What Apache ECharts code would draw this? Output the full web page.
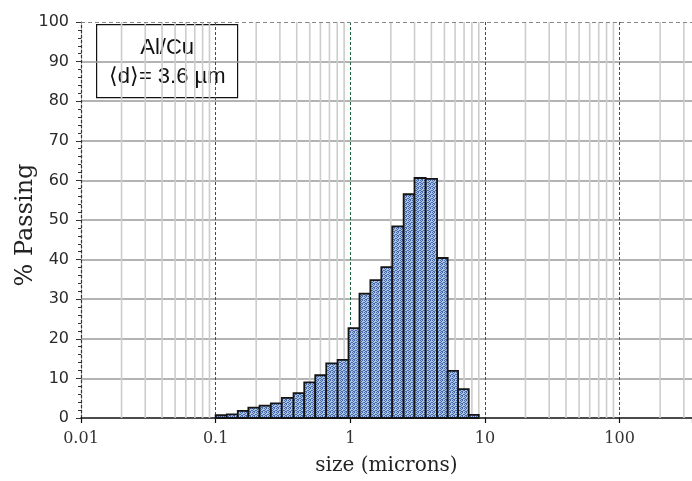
<!DOCTYPE html>
<html><head><meta charset="utf-8">
<script src="https://cdn.jsdelivr.net/npm/echarts@6/dist/echarts.min.js"></script>
<style>html,body{margin:0;padding:0;background:#fff}#c{width:692px;height:481px}</style>
</head><body><div id="c"></div>
<script>
// Bin edges (microns)
const binEdges = [0.1, 0.121, 0.146, 0.175, 0.212, 0.257, 0.31, 0.379, 0.455, 0.549, 0.663, 0.805,
  0.97, 1.17, 1.41, 1.7, 2.05, 2.49, 3.0, 3.63, 4.41, 5.29, 6.32, 7.58, 9.0];
// % Passing per bin
const passing = [0.7, 0.9, 1.8, 2.6, 3.1, 3.7, 5.1, 6.3, 9.0, 10.8, 13.8, 14.7,
  22.7, 31.4, 34.8, 38.1, 48.4, 56.5, 60.6, 60.4, 40.4, 11.9, 7.3, 0.8];
// Minor log grid positions
const minorTicks = [0.02,0.03,0.04,0.05,0.06,0.07,0.08,0.09,
  0.2,0.3,0.4,0.5,0.6,0.7,0.8,0.9,
  2,3,4,5,6,7,8,9,
  20,30,40,50,60,70,80,90,
  200,300];
const xTickLabels = ['0.01','0.1','1','10','100'];
const annotation = ['Al/Cu', '\u27E8d\u27E9= 3.6 \u00B5m'];

const barData = passing.map((v, i) => [binEdges[i], binEdges[i + 1], v]);

// dotted fill pattern
const pc = document.createElement('canvas');
pc.width = 4; pc.height = 4;
const pctx = pc.getContext('2d');
pctx.fillStyle = '#adc4e9'; pctx.fillRect(0, 0, 4, 4);
pctx.fillStyle = '#4467a8';
[[0,0],[2,0],[1,1],[3,2],[0,2],[2,3],[1,3]].forEach(p => pctx.fillRect(p[0], p[1], 1, 1));

const chart = echarts.init(document.getElementById('c'), null, {renderer: 'canvas'});
const serif = 'DejaVu Serif';
chart.setOption({
  animation: false,
  grid: {left: 81, right: 0, top: 22, bottom: 63, containLabel: false, outerBoundsMode: 'none'},
  xAxis: {
    type: 'log', logBase: 10, min: 0.01, max: 345,
    name: 'size (microns)', nameLocation: 'middle', nameGap: 38, nameMoveOverlap: false,
    nameTextStyle: {fontFamily: serif, fontSize: 20, color: '#222'},
    axisLine: {show: true, onZero: false, lineStyle: {color: '#111', width: 1.5}},
    axisTick: {show: true, length: 5, lineStyle: {color: '#111', width: 1.2}},
    axisLabel: {
      margin: 13, fontFamily: serif, fontSize: 16, color: '#333',
      formatter: function (v) {
        const l = Math.log10(v);
        if (Math.abs(l - Math.round(l)) > 1e-6) return '';
        const idx = Math.round(l) + 2;
        return xTickLabels[idx] || '';
      }
    },
    splitLine: {show: true, showMinLine: false, showMaxLine: false,
      lineStyle: {color: '#1a6440', width: 1, type: [3, 2]}}
  },
  yAxis: {
    type: 'value', min: 0, max: 100, interval: 10,
    name: '% Passing', nameLocation: 'middle', nameGap: 43, nameRotate: 90, nameMoveOverlap: false,
    nameTextStyle: {fontFamily: serif, fontSize: 24, color: '#222', padding: [0, 10, 0, 0]},
    axisLine: {show: true, lineStyle: {color: '#333', width: 1.2, type: [3, 2]}},
    axisTick: {show: true, length: 5, lineStyle: {color: '#333'}},
    minorTick: {show: true, splitNumber: 5, length: 3, lineStyle: {color: '#333'}},
    axisLabel: {margin: 12, fontFamily: 'DejaVu Sans', fontSize: 16, color: '#2a2a2a'},
    splitLine: {show: true, showMinLine: false, showMaxLine: false,
      lineStyle: {color: '#9a9a9a', width: 1.5}}
  },
  series: [
    {
      type: 'custom', z: 1, silent: true, clip: true,
      data: minorTicks.map(v => [v]),
      encode: {x: 0},
      renderItem: function (params, api) {
        const v = api.value(0);
        const b = api.coord([v, 0]);
        const t = api.coord([v, 100]);
        return {type: 'group', children: [
          {type: 'line', shape: {x1: b[0], y1: b[1], x2: t[0], y2: t[1]},
            style: {stroke: '#cdcdcd', lineWidth: 1.6}},
          {type: 'line', shape: {x1: b[0], y1: b[1], x2: b[0], y2: b[1] + 4},
            style: {stroke: '#111', lineWidth: 1}}
        ]};
      },
      markLine: {
        silent: true, symbol: 'none', label: {show: false},
        lineStyle: {color: '#888', type: [4, 3], width: 1},
        data: [{yAxis: 100}]
      }
    },
    {
      type: 'custom', z: 3, silent: true,
      data: barData,
      encode: {x: [0, 1], y: 2},
      renderItem: function (params, api) {
        const p0 = api.coord([api.value(0), api.value(2)]);
        const p1 = api.coord([api.value(1), 0]);
        return {type: 'rect',
          shape: {x: p0[0], y: p0[1], width: p1[0] - p0[0], height: p1[1] - p0[1]},
          style: {fill: {image: pc, repeat: 'repeat'}, stroke: '#151515', lineWidth: 1.8}};
      }
    }
  ],
  graphic: [{
    type: 'group', left: 96, top: 24, z: 10,
    children: [
      {type: 'rect', shape: {x: 0, y: 0, width: 141, height: 73},
        style: {fill: '#fff', stroke: '#111', lineWidth: 1.2}},
      {type: 'text', x: 70.5, y: 23, style: {text: annotation[0], align: 'center', verticalAlign: 'middle',
        font: '22px "Liberation Sans", Arial, sans-serif', fill: '#111'}},
      {type: 'text', x: 70.5, y: 52, style: {text: annotation[1], align: 'center', verticalAlign: 'middle',
        font: '22px "Liberation Sans", Arial, sans-serif', fill: '#111'}}
    ]
  }]
});
</script></body></html>
